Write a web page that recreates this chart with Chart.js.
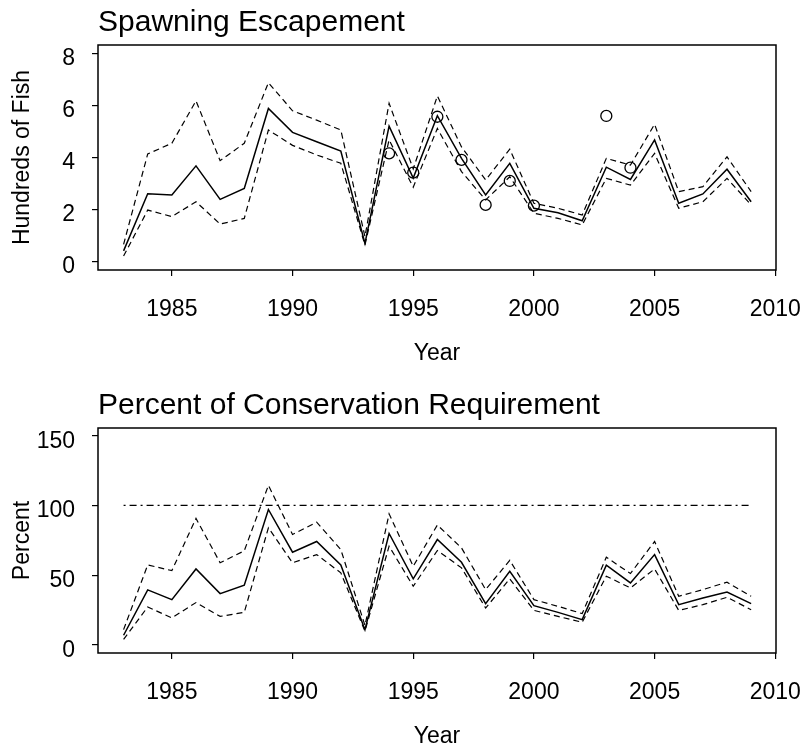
<!DOCTYPE html>
<html>
<head>
<meta charset="utf-8">
<script src="https://cdn.jsdelivr.net/npm/chart.js@4.4.1/dist/chart.umd.min.js"></script>
<style>
    html, body { margin: 0; padding: 0; background: #fff; overflow: hidden; }
    .panel { position: absolute; left: 0; width: 804px; height: 384px; }
    #topPanel { top: 0; }
    #bottomPanel { top: 383px; }
</style>
</head>
<body>
<div class="panel" id="topPanel"><canvas id="escChart" width="804" height="384"></canvas></div>
<div class="panel" id="bottomPanel"><canvas id="pctChart" width="804" height="384"></canvas></div>
<script>
// ============================================================
// DATA
// ============================================================
const years = [1983, 1984, 1985, 1986, 1987, 1988, 1989, 1990, 1991, 1992, 1993, 1994, 1995, 1996,
               1997, 1998, 1999, 2000, 2001, 2002, 2003, 2004, 2005, 2006, 2007, 2008, 2009];
const xTicks = [1985, 1990, 1995, 2000, 2005, 2010];

// Spawning escapement, hundreds of fish
const escTicks = [0, 2, 4, 6, 8];
const escEstimate = [0.4, 2.6, 2.55, 3.67, 2.38, 2.8, 5.88, 4.96, 4.6, 4.24, 0.69, 5.2, 3.2, 5.6,
                     3.96, 2.55, 3.77, 2.04, 1.87, 1.56, 3.62, 3.15, 4.67, 2.23, 2.59, 3.54, 2.29];
const escUpper = [0.65, 4.13, 4.54, 6.17, 3.87, 4.54, 6.87, 5.79, 5.43, 5.05, 0.95, 6.08, 3.55, 6.36,
                  4.4, 3.13, 4.31, 2.23, 2.04, 1.78, 3.96, 3.7, 5.27, 2.68, 2.87, 4.02, 2.68];
const escLower = [0.2, 1.97, 1.72, 2.29, 1.43, 1.65, 5.05, 4.46, 4.09, 3.77, 0.63, 4.67, 2.85, 5.11,
                  3.45, 2.36, 3.25, 1.85, 1.65, 1.4, 3.19, 2.93, 4.15, 2.04, 2.29, 3.19, 2.17];
const escObserved = [null, null, null, null, null, null, null, null, null, null, null, 4.15, 3.41, 5.56,
                     3.9, 2.17, 3.09, 2.14, null, null, 5.59, 3.6, null, null, null, null, null];

// Percent of conservation requirement
const pctTicks = [0, 50, 100, 150];
const pctEstimate = [7, 39.5, 32.5, 54.5, 36.8, 42.8, 97.1, 66.5, 74.2, 57.4, 11, 79.9, 47.4, 75.6,
                     59.3, 29.6, 52.8, 28.2, 23.4, 18.2, 57.2, 44.5, 64.8, 28.9, 33.7, 38, 29.6];
const pctUpper = [11, 57.4, 53.3, 90.7, 58.9, 67.5, 114.4, 79.2, 88, 68.4, 14, 94, 56.4, 86,
                  69.6, 39.7, 60.7, 32.5, 27.7, 22.5, 62.9, 51.2, 74.2, 34.9, 39.7, 45, 34.9];
const pctLower = [4, 27.3, 19.4, 30.4, 20.5, 23.4, 84, 58.9, 64.8, 51.7, 10, 70.8, 42.1, 67.7,
                  55.3, 26.5, 47.4, 24.8, 20.5, 16.3, 49.3, 40.9, 54.5, 24.8, 28.9, 34.2, 25.3];
const requirementYears = [1983, 2009];
const requirementPct = 100;

// ============================================================
// CHARTS
// ============================================================
const FONT = 'Liberation Sans, Arial, Helvetica, sans-serif';
let chartInstances = {};

function toPoints(values) {
    return years.map((yr, i) => ({ x: yr, y: values[i] })).filter(p => p.y !== null);
}

function lineSet(label, values, dash, width) {
    return {
        type: 'line',
        label: label,
        data: toPoints(values),
        borderColor: '#000',
        borderWidth: width,
        borderDash: dash,
        pointRadius: 0,
        fill: false,
        tension: 0
    };
}

// box round the plot area, like R's box()
const frame = {
    id: 'frame',
    afterDraw(chart) {
        const a = chart.chartArea;
        const c = chart.ctx;
        c.save();
        c.strokeStyle = '#000';
        c.lineWidth = 1.5;
        c.strokeRect(a.left, a.top, a.right - a.left, a.bottom - a.top);
        c.restore();
    }
};

function makeChart(id, title, yTitle, yMin, yMax, yTickList, datasets) {
    const ctx = document.getElementById(id);
    if (chartInstances[id]) chartInstances[id].destroy();
    chartInstances[id] = new Chart(ctx, {
        type: 'scatter',
        data: { datasets: datasets },
        options: {
            responsive: false,
            animation: false,
            layout: { autoPadding: false, padding: { left: 0, right: 28, top: 0, bottom: 0 } },
            plugins: {
                legend: { display: false },
                tooltip: { enabled: false },
                title: {
                    display: true,
                    text: title,
                    align: 'start',
                    fullSize: false,
                    color: '#000',
                    font: { family: FONT, size: 30, weight: 'normal' },
                    padding: { top: 4.9, bottom: 4.1 }
                }
            },
            scales: {
                x: {
                    type: 'linear',
                    min: 1981.94,
                    max: 2010.03,
                    afterBuildTicks: s => { s.ticks = xTicks.map(v => ({ value: v })); },
                    afterFit: s => { s.height = 114; s.paddingLeft = 0; s.paddingRight = 0; },
                    border: { display: false },
                    grid: { drawOnChartArea: false, drawTicks: true, tickLength: 6, color: '#000', lineWidth: 1.2 },
                    ticks: { color: '#000', font: { family: FONT, size: 23 }, padding: 19.5, maxRotation: 0, callback: v => String(v) },
                    title: { display: true, text: 'Year', color: '#000', font: { family: FONT, size: 23 }, padding: { top: 0, bottom: 16.2 } }
                },
                y: {
                    type: 'linear',
                    min: yMin,
                    max: yMax,
                    afterBuildTicks: s => { s.ticks = yTickList.map(v => ({ value: v })); },
                    afterFit: s => { s.width = 98; s.paddingTop = 0; s.paddingBottom = 0; },
                    border: { display: false },
                    grid: { drawOnChartArea: false, drawTicks: true, tickLength: 6, color: '#000', lineWidth: 1.2 },
                    ticks: { color: '#000', font: { family: FONT, size: 23 }, padding: 17, labelOffset: 5.5, callback: v => String(v) },
                    title: { display: true, text: yTitle, color: '#000', font: { family: FONT, size: 23 }, padding: { top: 8.7, bottom: 0 } }
                }
            }
        },
        plugins: [frame]
    });
}

function renderAllCharts() {
    // Spawning escapement
    makeChart('escChart', 'Spawning Escapement', 'Hundreds of Fish', -0.335, 8.32, escTicks, [
        lineSet('Estimate', escEstimate, [], 1.5),
        lineSet('Upper', escUpper, [6, 4], 1.2),
        lineSet('Lower', escLower, [6, 4], 1.2),
        {
            label: 'Observed',
            data: toPoints(escObserved),
            showLine: false,
            pointStyle: 'circle',
            pointRadius: 5.5,
            pointBorderWidth: 1.3,
            pointBorderColor: '#000',
            pointBackgroundColor: 'rgba(0,0,0,0)'
        }
    ]);

    // Percent of conservation requirement
    makeChart('pctChart', 'Percent of Conservation Requirement', 'Percent', -5.73, 155.5, pctTicks, [
        lineSet('Estimate', pctEstimate, [], 1.5),
        lineSet('Upper', pctUpper, [6, 4], 1.2),
        lineSet('Lower', pctLower, [6, 4], 1.2),
        {
            type: 'line',
            label: 'Requirement',
            data: requirementYears.map(yr => ({ x: yr, y: requirementPct })),
            borderColor: '#000',
            borderWidth: 1.2,
            borderDash: [2, 4, 7, 4],
            pointRadius: 0,
            fill: false
        }
    ]);
}

renderAllCharts();
</script>
</body>
</html>
